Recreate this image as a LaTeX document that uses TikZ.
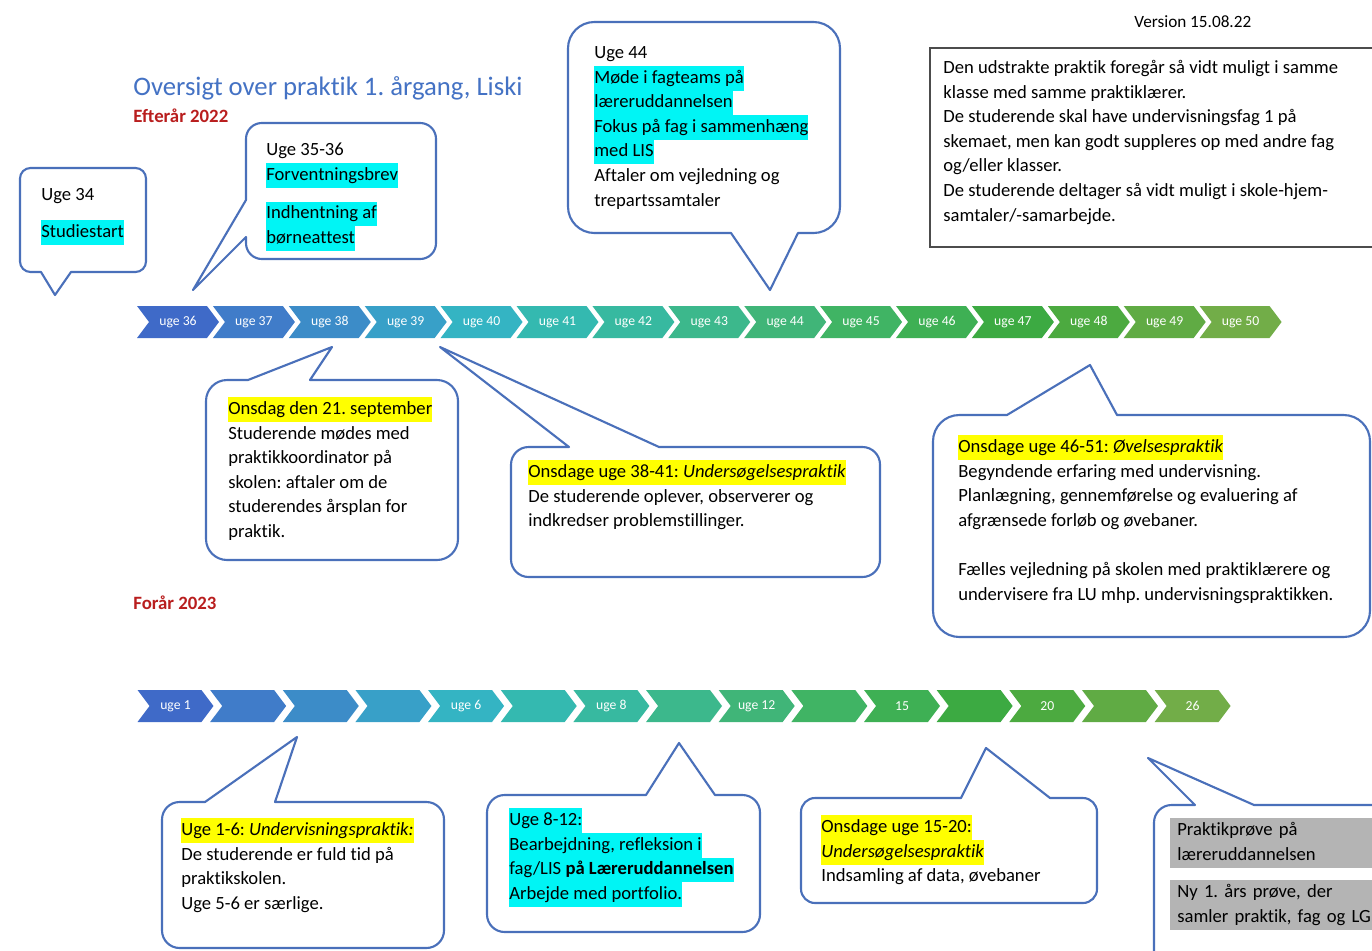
\documentclass[tikz,border=0pt]{standalone}
\usepackage{fontspec}
\setmainfont{Carlito}[Ligatures=NoCommon]
\usepackage{xcolor}
\usetikzlibrary{shapes.symbols}

\definecolor{lineblue}{RGB}{74,112,186}
\definecolor{titleblue}{RGB}{68,114,196}
\definecolor{darkred}{RGB}{185,30,30}
\definecolor{hlcyan}{RGB}{0,245,245}
\definecolor{hlyellow}{RGB}{255,255,0}
\definecolor{hlgrey}{RGB}{180,180,180}
% chevron colours, blue to green
\definecolor{ch1}{RGB}{63,106,200}
\definecolor{ch2}{RGB}{64,124,201}
\definecolor{ch3}{RGB}{60,140,200}
\definecolor{ch4}{RGB}{56,160,200}
\definecolor{ch5}{RGB}{52,180,195}
\definecolor{ch6}{RGB}{52,185,176}
\definecolor{ch7}{RGB}{55,185,160}
\definecolor{ch8}{RGB}{60,184,140}
\definecolor{ch9}{RGB}{64,181,120}
\definecolor{ch10}{RGB}{64,180,100}
\definecolor{ch11}{RGB}{62,176,84}
\definecolor{ch12}{RGB}{60,170,66}
\definecolor{ch13}{RGB}{76,170,64}
\definecolor{ch14}{RGB}{96,171,68}
\definecolor{ch15}{RGB}{114,173,72}

\newcommand{\bodyfont}{\fontsize{10.6}{14}\selectfont}
\newcommand{\hlc}[1]{{\setlength{\fboxsep}{0pt}\colorbox{hlcyan}{\strut #1}}}
\newcommand{\hly}[1]{{\setlength{\fboxsep}{0pt}\colorbox{hlyellow}{\strut #1}}}
\frenchspacing

\begin{document}
\begin{tikzpicture}[
    x=0.02cm, y=-0.02cm,
    bubble/.style={draw=lineblue, line width=1.2pt, fill=white, line join=round},
    txt/.style={anchor=north west, inner sep=0pt, align=left, font=\bodyfont},
    head/.style={anchor=base west, inner sep=0pt, font=\fontsize{10.7}{12}\selectfont\bfseries, text=darkred},
    chev/.style={signal, signal from=west, signal to=east, signal pointer angle=106,
                 minimum width=1.64cm, minimum height=0.64cm, inner sep=0pt,
                 text=white, font=\fontsize{7.8}{9}\selectfont},
    chevb/.style={chev, minimum width=1.52cm},
    greyblk/.style={anchor=north west, fill=hlgrey, inner xsep=0.14cm, inner ysep=0pt,
                    text width=5cm, align=left, font=\bodyfont}
  ]

  \clip (0,0) rectangle (1372,950);
  \fill[white] (0,0) rectangle (1372,950);

  % headings
  \node[anchor=base west, inner sep=0pt, font=\fontsize{15.2}{17}\selectfont, text=titleblue] (title) at (133,95) {Oversigt over praktik 1. årgang, Liski};
  \node[head] (efteraar) at (133,122) {Efterår 2022};
  \node[head] (foraar) at (133,609) {Forår 2023};
  \node[anchor=base west, inner sep=0pt, font=\fontsize{9.8}{11}\selectfont] (version) at (1134,28) {Version 15.08.22};

  % info box
  \draw[line width=0.8pt, draw=black!70] (930,48) rectangle (1380,247);
  \node[txt] (info) at (943,56) {\strut Den udstrakte praktik foregår så vidt muligt i samme\\
    klasse med samme praktiklærer.\\
    De studerende skal have undervisningsfag 1 på\\
    skemaet, men kan godt suppleres op med andre fag\\
    og/eller klasser.\\
    De studerende deltager så vidt muligt i skole-hjem-\\
    samtaler/-samarbejde.};

  % week chevrons
  \foreach \wk [count=\i] in {36,...,50}
    \node[chev, fill=ch\i] (u\wk) at ({178+75.9*(\i-1)},322) {uge \wk};
  \foreach \wk [count=\i] in {uge 1,{},{},{},uge 6,{},uge 8,{},uge 12,{},15,{},20,{},26}
    \node[chevb, fill=ch\i] (v\i) at ({175.5+72.65*(\i-1)},706) {\wk};

  % callouts, autumn
  \draw[bubble] (20,220) [rounded corners=6pt] -- (20,168) -- (146,168) -- (146,272)
    [sharp corners] -- (71,272) -- (55,295) -- (41,272) [rounded corners=6pt] -- (20,272) -- cycle;
  \node[txt] (uge34) at (41,183) {\strut Uge 34\\[7pt]\hlc{Studiestart}};

  \draw[bubble] (340,123) [rounded corners=9pt] -- (436,123) -- (436,259) -- (246,259)
    [sharp corners] -- (246,237) -- (193,290) -- (246,200) [rounded corners=9pt] -- (246,123) -- cycle;
  \node[txt] (uge3536) at (266,138) {\strut Uge 35-36\\\hlc{Forventningsbrev}\\[8pt]
    \hlc{Indhentning af}\\\hlc{børneattest}};

  \draw[bubble] (568,120) [rounded corners=15pt] -- (568,22) -- (840,22) -- (840,233)
    [sharp corners] -- (798,233) -- (770,290) -- (731,233) [rounded corners=15pt] -- (568,233) -- cycle;
  \node[txt] (uge44) at (594,41) {\strut Uge 44\\\hlc{Møde i fagteams på}\\\hlc{læreruddannelsen}\\
    \hlc{Fokus på fag i sammenhæng}\\\hlc{med LIS}\\Aftaler om vejledning og\\trepartssamtaler};

  \draw[bubble] (206,470) [rounded corners=12pt] -- (206,380)
    [sharp corners] -- (248,380) -- (332,347) -- (310,380) [rounded corners=12pt] -- (458,380) -- (458,560) -- (206,560) -- cycle;
  \node[txt] (sept21) at (228,397) {\hly{Onsdag den 21. september}\\Studerende mødes med\\
    praktikkoordinator på\\skolen: aftaler om de\\studerendes årsplan for\\praktik.};

  \draw[bubble] (511,510) [rounded corners=10pt] -- (511,447)
    [sharp corners] -- (569,447) -- (440,347) -- (659,447) [rounded corners=10pt] -- (880,447) -- (880,577) -- (511,577) -- cycle;
  \node[txt] (uge3841) at (528,460) {\hly{Onsdage uge 38-41: \textit{Undersøgelsespraktik}}\\
    De studerende oplever, observerer og\\indkredser problemstillinger.};

  \draw[bubble] (933,520) [rounded corners=15pt] -- (933,415)
    [sharp corners] -- (1007,415) -- (1090,365) -- (1117,415) [rounded corners=15pt] -- (1370,415) -- (1370,637) -- (933,637) -- cycle;
  \node[txt] (uge4651) at (958,435) {\hly{Onsdage uge 46-51: \textit{Øvelsespraktik}}\\
    Begyndende erfaring med undervisning.\\Planlægning, gennemførelse og evaluering af\\
    afgrænsede forløb og øvebaner.\\[14pt]
    Fælles vejledning på skolen med praktiklærere og\\undervisere fra LU mhp. undervisningspraktikken.};

  % callouts, spring
  \draw[bubble] (162,880) [rounded corners=10pt] -- (162,802)
    [sharp corners] -- (205,802) -- (297,737) -- (275,802) [rounded corners=10pt] -- (444,802) -- (444,948) -- (162,948) -- cycle;
  \node[txt] (uge16) at (181,818) {\hly{Uge 1-6: \textit{Undervisningspraktik:}}\\
    De studerende er fuld tid på\\praktikskolen.\\Uge 5-6 er særlige.};

  \draw[bubble] (487,860) [rounded corners=10pt] -- (487,795)
    [sharp corners] -- (646,795) -- (679,743) -- (715,795) [rounded corners=10pt] -- (760,795) -- (760,932) -- (487,932) -- cycle;
  \node[txt] (uge812) at (509,808) {\hlc{Uge 8-12:}\\\hlc{Bearbejdning, refleksion i}\\
    \hlc{fag/LIS \textbf{på Læreruddannelsen}}\\\hlc{Arbejde med portfolio.}};

  \draw[bubble] (801,850) [rounded corners=8pt] -- (801,798)
    [sharp corners] -- (961,798) -- (986,748) -- (1050,798) [rounded corners=8pt] -- (1097,798) -- (1097,903) -- (801,903) -- cycle;
  \node[txt] (uge1520) at (821,815) {\hly{Onsdage uge 15-20:}\\\hly{\textit{Undersøgelsespraktik}}\\
    Indsamling af data, øvebaner};

  \draw[bubble] (1154,880) [rounded corners=10pt] -- (1154,805)
    [sharp corners] -- (1195,805) -- (1148,758) -- (1254,805) [rounded corners=10pt] -- (1400,805) -- (1400,980) -- (1154,980) -- cycle;
  \node[greyblk] (proeveA) at (1170,818) {\strut Praktikprøve på\\læreruddannelsen\strut};
  \node[greyblk] (proeveB) at (1170,880) {\strut Ny 1. års prøve, der\\samler praktik, fag og LG\strut};

\end{tikzpicture}
\end{document}
